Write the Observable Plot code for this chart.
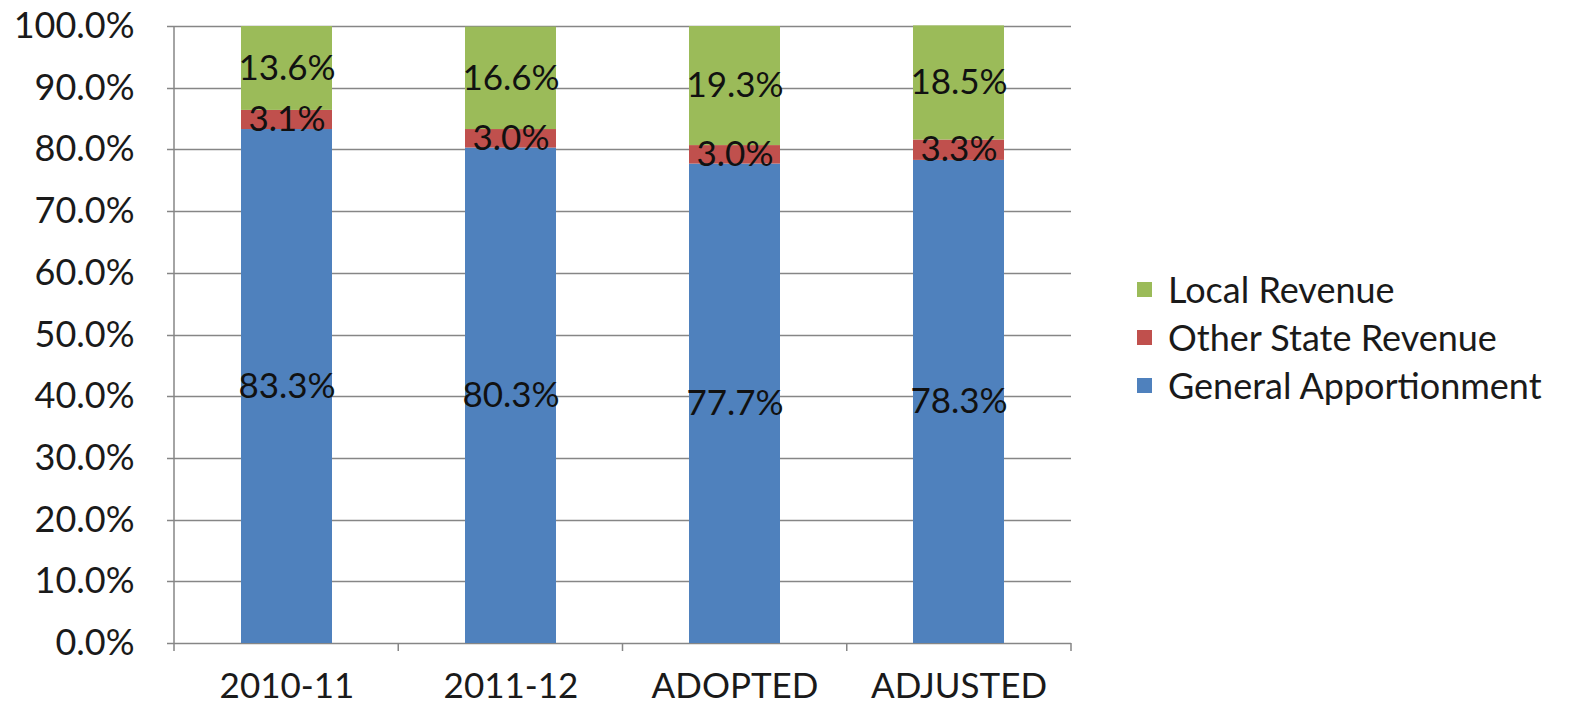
<!DOCTYPE html>
<html>
<head>
<meta charset="utf-8">
<script src="https://cdn.jsdelivr.net/npm/d3@7"></script>
<script src="https://cdn.jsdelivr.net/npm/@observablehq/plot@0.6"></script>
<style>
  html, body { margin: 0; padding: 0; background: #fff; }
  #wrap { position: relative; width: 1585px; height: 712px; font-family: Lato, "Open Sans", sans-serif; }
  #legend { position: absolute; left: 1137px; top: 265px; font-size: 36px; color: #1a1a1a; }
  #legend .row { display: flex; align-items: center; height: 48px; }
  #legend .sw { width: 15px; height: 15px; margin-right: 16px; }
</style>
</head>
<body>
<div id="wrap"></div>
<script>
const categories = ["2010-11", "2011-12", "ADOPTED", "ADJUSTED"];
const seriesNames = ["General Apportionment", "Other State Revenue", "Local Revenue"];
const generalApportionment = [83.3, 80.3, 77.7, 78.3];
const otherStateRevenue = [3.1, 3.0, 3.0, 3.3];
const localRevenue = [13.6, 16.6, 19.3, 18.5];
const colors = ["#4F81BD", "#C0504D", "#9BBB59"];
const yTicks = [0, 10, 20, 30, 40, 50, 60, 70, 80, 90, 100];

const seriesValues = [generalApportionment, otherStateRevenue, localRevenue];
const rows = [];
seriesNames.forEach((s, si) => {
  categories.forEach((c, ci) => rows.push({category: c, series: s, value: seriesValues[si][ci]}));
});

const gridColor = "#868686";

// horizontal gridlines (with short outer ticks) drawn through the y scale
function gridLines(index, scales, values, dims) {
  const g = d3.create("svg:g");
  const left = dims.marginLeft, right = dims.width - dims.marginRight;
  for (const t of yTicks) {
    const y = Math.round(scales.y(t)) + 0.5;
    g.append("line").attr("x1", left - 7).attr("x2", right).attr("y1", y).attr("y2", y)
      .attr("stroke", gridColor).attr("stroke-width", 1.5);
  }
  return g.node();
}

// y axis line and category boundary ticks
function axisLines(index, scales, values, dims) {
  const g = d3.create("svg:g");
  const left = dims.marginLeft, right = dims.width - dims.marginRight;
  const top = dims.marginTop, bottom = dims.height - dims.marginBottom;
  g.append("line").attr("x1", left).attr("x2", left).attr("y1", top).attr("y2", bottom + 8)
    .attr("stroke", gridColor).attr("stroke-width", 1.5);
  const n = categories.length;
  for (let k = 1; k <= n; k++) {
    const x = left + (right - left) * k / n;
    g.append("line").attr("x1", x).attr("x2", x).attr("y1", bottom).attr("y2", bottom + 8)
      .attr("stroke", gridColor).attr("stroke-width", 1.5);
  }
  return g.node();
}

const chart = Plot.plot({
  width: 1585,
  height: 712,
  marginLeft: 174,
  marginRight: 514,
  marginTop: 26,
  marginBottom: 69,
  style: {fontFamily: "Lato, 'Open Sans', sans-serif", fontSize: "35px", color: "#1a1a1a", background: "#fff"},
  x: {domain: categories, paddingInner: 0.595, paddingOuter: 0.2975, label: null},
  y: {domain: [0, 100], label: null},
  color: {domain: seriesNames, range: colors},
  marks: [
    gridLines,
    Plot.barY(rows, Plot.stackY({x: "category", y: "value", fill: "series", order: null})),
    Plot.text(rows, Plot.stackY({x: "category", y: "value", order: null, text: d => d.value.toFixed(1) + "%", fill: "#111", fontSize: 35})),
    axisLines,
    Plot.axisY({ticks: yTicks, tickFormat: d => d.toFixed(1) + "%", tickSize: 0, tickPadding: 40, fontSize: 36, label: null}),
    Plot.axisX({tickSize: 0, tickPadding: 30, fontSize: 35, label: null})
  ]
});

const wrap = document.getElementById("wrap");
wrap.appendChild(chart);

const legend = document.createElement("div");
legend.id = "legend";
[2, 1, 0].forEach(i => {
  const row = document.createElement("div");
  row.className = "row";
  const sw = document.createElement("div");
  sw.className = "sw";
  sw.style.background = colors[i];
  const label = document.createElement("span");
  label.textContent = seriesNames[i];
  row.appendChild(sw);
  row.appendChild(label);
  legend.appendChild(row);
});
wrap.appendChild(legend);
</script>
</body>
</html>
